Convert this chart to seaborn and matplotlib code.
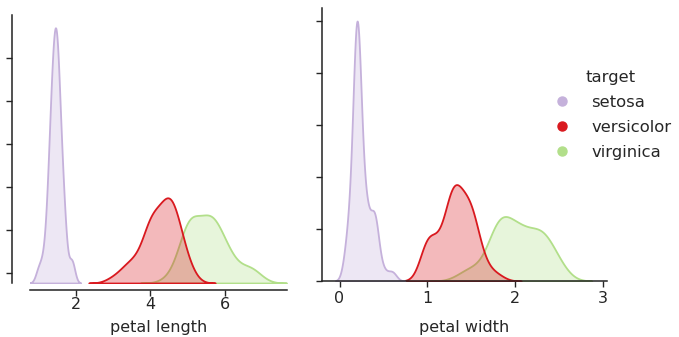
import numpy as np
import pandas as pd
import matplotlib
matplotlib.use("Agg")
import matplotlib.pyplot as plt
from matplotlib.lines import Line2D
import seaborn as sns

# Iris petal measurements (cm), 50 flowers per species
species = ["setosa", "versicolor", "virginica"]

setosa_petal_length = [1.4, 1.4, 1.3, 1.5, 1.4, 1.7, 1.4, 1.5, 1.4, 1.5,
                       1.5, 1.6, 1.4, 1.1, 1.2, 1.5, 1.3, 1.4, 1.7, 1.5,
                       1.7, 1.5, 1.0, 1.7, 1.9, 1.6, 1.6, 1.5, 1.4, 1.6,
                       1.6, 1.5, 1.5, 1.4, 1.5, 1.2, 1.3, 1.5, 1.3, 1.5,
                       1.3, 1.3, 1.3, 1.6, 1.9, 1.4, 1.6, 1.4, 1.5, 1.4]
setosa_petal_width = [0.2, 0.2, 0.2, 0.2, 0.2, 0.4, 0.3, 0.2, 0.2, 0.1,
                      0.2, 0.2, 0.1, 0.1, 0.2, 0.4, 0.4, 0.3, 0.3, 0.3,
                      0.2, 0.4, 0.2, 0.5, 0.2, 0.2, 0.4, 0.2, 0.2, 0.2,
                      0.2, 0.4, 0.1, 0.2, 0.2, 0.2, 0.2, 0.1, 0.2, 0.2,
                      0.3, 0.3, 0.2, 0.6, 0.4, 0.3, 0.2, 0.2, 0.2, 0.2]

versicolor_petal_length = [4.7, 4.5, 4.9, 4.0, 4.6, 4.5, 4.7, 3.3, 4.6, 3.9,
                           3.5, 4.2, 4.0, 4.7, 3.6, 4.4, 4.5, 4.1, 4.5, 3.9,
                           4.8, 4.0, 4.9, 4.7, 4.3, 4.4, 4.8, 5.0, 4.5, 3.5,
                           3.8, 3.7, 3.9, 5.1, 4.5, 4.5, 4.7, 4.4, 4.1, 4.0,
                           4.4, 4.6, 4.0, 3.3, 4.2, 4.2, 4.2, 4.3, 3.0, 4.1]
versicolor_petal_width = [1.4, 1.5, 1.5, 1.3, 1.5, 1.3, 1.6, 1.0, 1.3, 1.4,
                          1.0, 1.5, 1.0, 1.4, 1.3, 1.4, 1.5, 1.0, 1.5, 1.1,
                          1.8, 1.3, 1.5, 1.2, 1.3, 1.4, 1.4, 1.7, 1.5, 1.0,
                          1.1, 1.0, 1.2, 1.6, 1.5, 1.6, 1.5, 1.3, 1.3, 1.3,
                          1.2, 1.4, 1.2, 1.0, 1.3, 1.2, 1.3, 1.3, 1.1, 1.3]

virginica_petal_length = [6.0, 5.1, 5.9, 5.6, 5.8, 6.6, 4.5, 6.3, 5.8, 6.1,
                          5.1, 5.3, 5.5, 5.0, 5.1, 5.3, 5.5, 6.7, 6.9, 5.0,
                          5.7, 4.9, 6.7, 4.9, 5.7, 6.0, 4.8, 4.9, 5.6, 5.8,
                          6.1, 6.4, 5.6, 5.1, 5.6, 6.1, 5.6, 5.5, 4.8, 5.4,
                          5.6, 5.1, 5.1, 5.9, 5.7, 5.2, 5.0, 5.2, 5.4, 5.1]
virginica_petal_width = [2.5, 1.9, 2.1, 1.8, 2.2, 2.1, 1.7, 1.8, 1.8, 2.5,
                         2.0, 1.9, 2.1, 2.0, 2.4, 2.3, 1.8, 2.2, 2.3, 1.5,
                         2.3, 2.0, 2.0, 1.8, 2.1, 1.8, 1.8, 1.8, 2.1, 1.6,
                         1.9, 2.0, 2.2, 1.5, 1.4, 2.3, 2.4, 1.8, 1.8, 2.1,
                         2.4, 2.3, 1.9, 2.3, 2.5, 2.3, 1.9, 2.0, 2.3, 1.8]

colors = ["#c5b1db", "#d9191f", "#b2df8a"]

iris = pd.DataFrame({
    "petal length": setosa_petal_length + versicolor_petal_length + virginica_petal_length,
    "petal width": setosa_petal_width + versicolor_petal_width + virginica_petal_width,
    "target": [s for s in species for _ in range(50)],
})

sns.set_style("ticks")
plt.rcParams["font.family"] = ["DejaVu Sans"]
text_color = "#262626"

W, H = 679, 337
fig = plt.figure(figsize=(W / 100, H / 100), dpi=100)


def frame(x0, y_top, x1, y_bot):
    return [x0 / W, 1 - y_bot / H, (x1 - x0) / W, (y_bot - y_top) / H]


ax1 = fig.add_axes(frame(30, 15, 287, 283))
ax2 = fig.add_axes(frame(322, 8, 607, 281))

palette = dict(zip(species, colors))
for ax, var, lpad in [(ax1, "petal length", 6), (ax2, "petal width", 10)]:
    sns.kdeplot(data=iris, x=var, hue="target", hue_order=species,
                palette=palette, fill=True, alpha=0.3, linewidth=1.3,
                common_norm=True, legend=False, ax=ax)
    ax.set_ylabel("")
    ax.set_xlabel(var, fontsize=11.5, color=text_color, labelpad=lpad)
    ax.tick_params(axis="both", labelsize=11.5, colors=text_color,
                   length=4, width=1, pad=3)
    ax.tick_params(axis="y", labelleft=False)
    sns.despine(ax=ax)
    for s in ("left", "bottom"):
        ax.spines[s].set_color("#222222")
        ax.spines[s].set_linewidth(1.1)

ax1.set_xlim(0.78, 7.67)
ax1.set_xticks([2, 4, 6])
ax1.tick_params(axis="x", pad=1)
ax2.set_xlim(-0.2, 3.05)
ax2.set_xticks([0, 1, 2, 3])

# the density scale is left unlabeled; ticks are spaced evenly up each axis
for ax, fracs in [(ax1, [0.037, 0.198, 0.358, 0.519, 0.679, 0.840]),
                  (ax2, [0.0, 0.19, 0.381, 0.571, 0.762, 0.952])]:
    lo, hi = ax.get_ylim()
    ax.set_ylim(0, hi)
    ax.set_yticks([f * hi for f in fracs])

ax1.spines["left"].set_position(("outward", 13))
ax1.spines["bottom"].set_position(("outward", 5))

handles = [Line2D([], [], marker="o", linestyle="", markersize=6.5,
                  markerfacecolor=c, markeredgecolor=c) for c in colors]
fig.legend(handles, species, title="target", loc="center left",
           bbox_to_anchor=(534 / W, 1 - 115 / H), frameon=False,
           fontsize=11.8, title_fontsize=11.8, handletextpad=1.0,
           handlelength=1.6, labelcolor=text_color, labelspacing=0.6)

fig.savefig("out.png", dpi=100)
